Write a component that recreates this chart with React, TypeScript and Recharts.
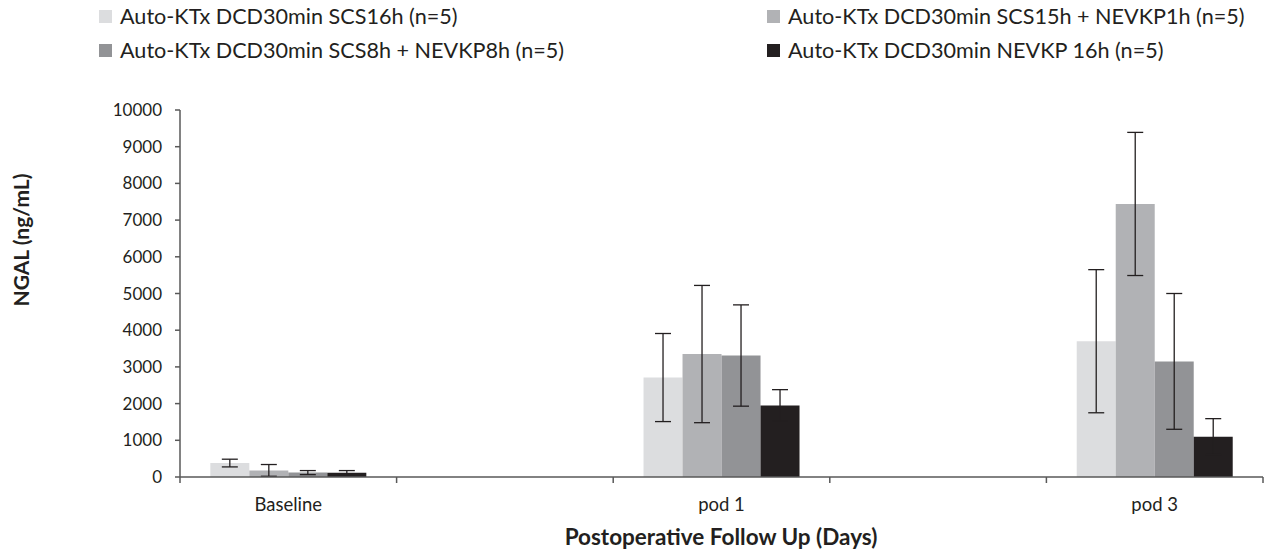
import { BarChart, Bar, XAxis, YAxis, ErrorBar } from "recharts"

const categories = ["Baseline", "", "pod 1", "", "pod 3"]

const seriesNames = [
  "Auto-KTx DCD30min SCS16h (n=5)",
  "Auto-KTx DCD30min SCS15h + NEVKP1h (n=5)",
  "Auto-KTx DCD30min SCS8h + NEVKP8h (n=5)",
  "Auto-KTx DCD30min NEVKP 16h (n=5)",
]
const seriesColors = ["#dcdddf", "#b1b2b5", "#929396", "#231f20"]

// means
const scs16 = [380, null, 2710, null, 3700]
const scs15nevkp1 = [180, null, 3350, null, 7440]
const scs8nevkp8 = [120, null, 3310, null, 3150]
const nevkp16 = [115, null, 1950, null, 1100]

// symmetric error (SD)
const scs16Err = [105, null, 1200, null, 1950]
const scs15nevkp1Err = [160, null, 1870, null, 1950]
const scs8nevkp8Err = [55, null, 1380, null, 1850]
const nevkp16Err = [60, null, 430, null, 490]

const yTicks = [0, 1000, 2000, 3000, 4000, 5000, 6000, 7000, 8000, 9000, 10000]

const means = [scs16, scs15nevkp1, scs8nevkp8, nevkp16]
const errs = [scs16Err, scs15nevkp1Err, scs8nevkp8Err, nevkp16Err]

const data = categories.map((c, i) => {
  const row: any = { key: `c${i}`, label: c }
  means.forEach((m, s) => {
    row[`s${s}`] = m[i]
    row[`e${s}`] = errs[s][i]
  })
  return row
})

const FONT = "Lato, 'Open Sans', sans-serif"
const TEXT = "#231f20"
const AXIS = "#595959"

const CategoryTick = (props: any) => {
  const { x, y, payload, index, visibleTicksCount } = props
  const half = payload?.offset ?? 0
  return (
    <g>
      <line x1={x - half} x2={x - half} y1={y} y2={y + 6} stroke={AXIS} strokeWidth={1.5} />
      {index === visibleTicksCount - 1 && (
        <line x1={x + half} x2={x + half} y1={y} y2={y + 6} stroke={AXIS} strokeWidth={1.5} />
      )}
      <text x={x} y={y + 34} textAnchor="middle" fill={TEXT} fontSize={18.5} fontFamily={FONT}>
        {categories[index]}
      </text>
    </g>
  )
}

export default function App() {
  return (
    <div style={{ position: "absolute", left: 0, top: 0, width: 1266, height: 549, fontFamily: FONT, background: "#fff" }}>
      {/* legend */}
      {seriesNames.map((name, i) => (
        <div
          key={name}
          style={{
            position: "absolute",
            left: i % 2 === 0 ? 99 : 767,
            top: i < 2 ? 10 : 44,
            height: 13,
            display: "flex",
            alignItems: "center",
            whiteSpace: "nowrap",
            fontSize: 21.6,
            lineHeight: 1,
            color: TEXT,
          }}
        >
          <span style={{ display: "inline-block", width: 13, height: 13, background: seriesColors[i], marginRight: 8 }} />
          {name}
        </div>
      ))}

      <BarChart
        width={1266}
        height={549}
        data={data}
        margin={{ top: 110, right: 3, left: 0, bottom: 0 }}
        barCategoryGap="14%"
        barGap={0}
      >
        <XAxis
          dataKey="key"
          height={72}
          interval={0}
          tickLine={false}
          tickSize={0}
          tickMargin={0}
          tick={<CategoryTick />}
          stroke={AXIS}
          strokeWidth={1.5}
        />
        <YAxis
          width={180}
          domain={[0, 10000]}
          ticks={yTicks}
          interval={0}
          tickSize={5}
          tickMargin={13}
          stroke={AXIS}
          strokeWidth={1.5}
          tick={{ fill: TEXT, fontSize: 17, fontFamily: FONT }}
        />
        {seriesNames.map((name, i) => (
          <Bar key={name} dataKey={`s${i}`} name={name} fill={seriesColors[i]} isAnimationActive={false}>
            <ErrorBar dataKey={`e${i}`} width={8} strokeWidth={1.3} stroke="#231f20" />
          </Bar>
        ))}
      </BarChart>

      <div
        style={{
          position: "absolute",
          left: 721,
          top: 536,
          transform: "translate(-50%, -50%)",
          whiteSpace: "nowrap",
          fontWeight: 700,
          fontSize: 22.5,
          color: TEXT,
        }}
      >
        Postoperative Follow Up (Days)
      </div>
      <div
        style={{
          position: "absolute",
          left: 20,
          top: 240,
          transform: "translate(-50%, -50%) rotate(-90deg)",
          whiteSpace: "nowrap",
          fontWeight: 700,
          fontSize: 21,
          color: TEXT,
        }}
      >
        NGAL (ng/mL)
      </div>
    </div>
  )
}
